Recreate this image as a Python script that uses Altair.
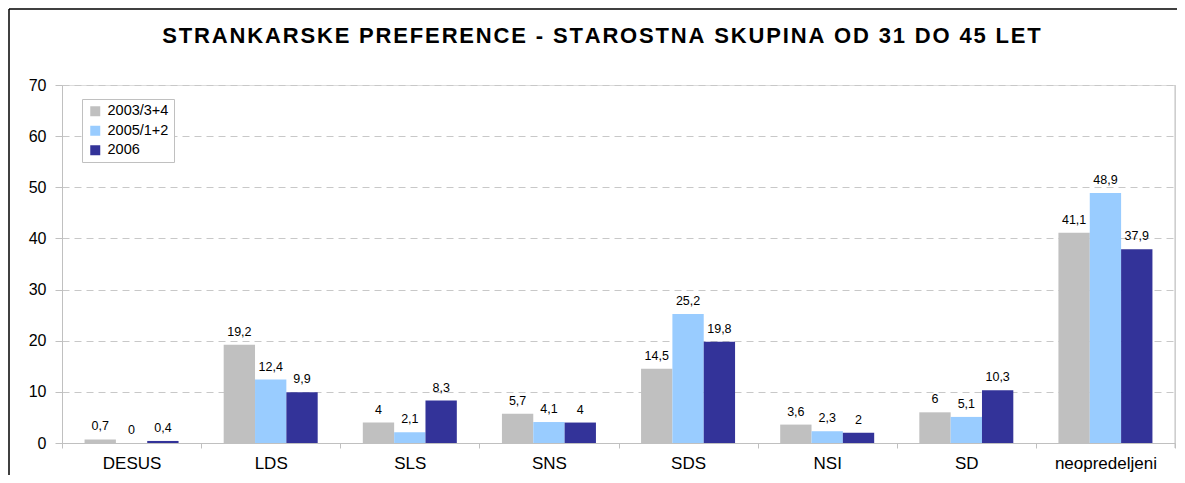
import altair as alt
import pandas as pd

categories = ["DESUS", "LDS", "SLS", "SNS", "SDS", "NSI", "SD", "neopredeljeni"]
series = ["2003/3+4", "2005/1+2", "2006"]
v2003 = [0.7, 19.2, 4, 5.7, 14.5, 3.6, 6, 41.1]
v2005 = [0, 12.4, 2.1, 4.1, 25.2, 2.3, 5.1, 48.9]
v2006 = [0.4, 9.9, 8.3, 4, 19.8, 2, 10.3, 37.9]
colors = ["#C0C0C0", "#99CCFF", "#333399"]
y_ticks = [0, 10, 20, 30, 40, 50, 60, 70]
title_text = "STRANKARSKE PREFERENCE - STAROSTNA SKUPINA OD 31 DO 45 LET"

rows = []
for s, vals in zip(series, [v2003, v2005, v2006]):
    for c, v in zip(categories, vals):
        rows.append({"kat": c, "serija": s, "vrednost": v,
                     "oznaka": f"{v:g}".replace(".", ",")})
df = pd.DataFrame(rows)

W, H = 1113, 358
FONT = "Liberation Sans"
spaced_title = "\u200a".join(title_text)

x_enc = alt.X("kat:N", sort=categories, title=None,
              scale=alt.Scale(paddingInner=0, paddingOuter=0),
              axis=alt.Axis(labelAngle=0, tickBand="extent", labelFontSize=17,
                            labelColor="black", labelPadding=7, tickSize=5,
                            domainColor="#c0c0c0", tickColor="#c0c0c0",
                            labelFont=FONT, grid=False))
xo_enc = alt.XOffset("serija:N", sort=series,
                     scale=alt.Scale(paddingInner=0, paddingOuter=0.72))
y_enc = alt.Y("vrednost:Q", title=None,
              scale=alt.Scale(domain=[0, 70], nice=False),
              axis=alt.Axis(values=y_ticks, labelFontSize=16, labelColor="black",
                            labelPadding=9, tickSize=7, tickColor="#c0c0c0",
                            domainColor="#c0c0c0", gridColor="#c8c8c8",
                            gridDash=[7, 5], labelFont=FONT))

base = alt.Chart(df)
bars = base.mark_bar().encode(
    x=x_enc, xOffset=xo_enc, y=y_enc,
    color=alt.Color("serija:N", sort=series,
                    scale=alt.Scale(domain=series, range=colors),
                    legend=alt.Legend(title=None, orient="none", legendX=20, legendY=14,
                                      strokeColor="#c0c0c0", padding=5,
                                      fillColor="white", symbolType="square",
                                      symbolSize=100, symbolStrokeWidth=0,
                                      labelFontSize=14.5, labelFont=FONT,
                                      labelColor="black", rowPadding=4.5,
                                      symbolOffset=1, labelOffset=5)),
)
labels = base.mark_text(baseline="bottom", dy=-6, fontSize=12.5, font=FONT,
                        color="black").encode(
    x=x_enc, xOffset=xo_enc, y=y_enc, text="oznaka:N")

deco = alt.Chart(alt.Data(values=[{}]))
right_line = deco.mark_rule(color="#c0c0c0").encode(
    x=alt.value(W), y=alt.value(0), y2=alt.value(H + 5))
top_border = deco.mark_rule(color="black", strokeWidth=1.5).encode(
    x=alt.value(-53), x2=alt.value(W + 2), y=alt.value(-76))
left_border = deco.mark_rule(color="black", strokeWidth=1.5).encode(
    x=alt.value(-53), y=alt.value(-76), y2=alt.value(H + 32))
title = deco.mark_text(fontSize=22, fontWeight="bold", font=FONT, color="black",
                       align="center", baseline="alphabetic").encode(
    x=alt.value(W / 2 - 17), y=alt.value(-42), text=alt.value(spaced_title))

chart = alt.layer(bars, labels, right_line, top_border, left_border, title).properties(
    width=W, height=H,
    autosize=alt.AutoSizeParams(type="none"),
    padding={"left": 54, "top": 77, "right": 2, "bottom": 32},
).configure_view(stroke=None).configure(background="white")

chart.save("out.html", embed_options={"renderer": "svg", "actions": False})
